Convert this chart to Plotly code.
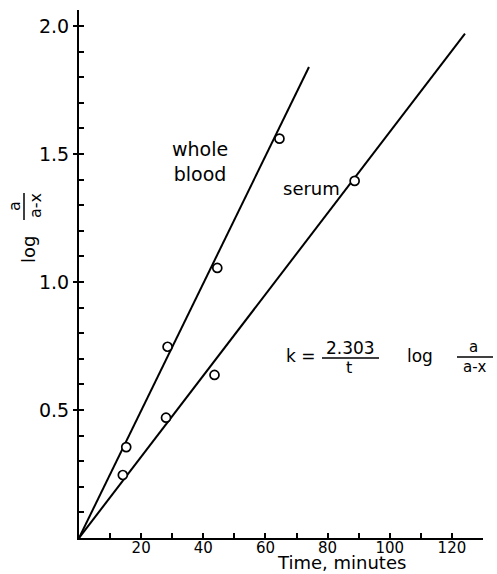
import plotly.graph_objects as go

# ---- data ----
wb_t = [15.2, 28.5, 44.5, 64.5]
wb_y = [0.355, 0.747, 1.055, 1.56]
serum_t = [14.1, 28.0, 43.6, 88.7]
serum_y = [0.246, 0.47, 0.637, 1.395]
wb_line_t = [0, 74]
wb_line_y = [0, 1.84]
serum_line_t = [0, 124.2]
serum_line_y = [0, 1.97]
x_ticks = [20, 40, 60, 80, 100, 120]
x_ticktext = ["20", "40", "60", "80", "100", "120"]
y_ticks = [0.5, 1.0, 1.5, 2.0]
y_ticktext = ["0.5", "1.0", "1.5", "2.0"]

W, H = 497, 574
L, R, T, B = 79, 14, 10, 36
XR = [0, 130]
YR = [0, 2.0625]
FONT = "DejaVu Sans"


def pp(xp, yp):
    """pixel -> paper coordinates"""
    return (xp - L) / (W - L - R), (H - B - yp) / (H - T - B)


fig = go.Figure()
line_style = dict(color="black", width=2)
fig.add_trace(go.Scatter(x=wb_line_t, y=wb_line_y, mode="lines", line=line_style,
                         showlegend=False, cliponaxis=False))
fig.add_trace(go.Scatter(x=serum_line_t, y=serum_line_y, mode="lines", line=line_style,
                         showlegend=False, cliponaxis=False))
marker_style = dict(symbol="circle", size=9, color="white",
                    line=dict(color="black", width=1.7))
fig.add_trace(go.Scatter(x=wb_t, y=wb_y, mode="markers", marker=marker_style,
                         showlegend=False, cliponaxis=False))
fig.add_trace(go.Scatter(x=serum_t, y=serum_y, mode="markers", marker=marker_style,
                         showlegend=False, cliponaxis=False))

ann = []


def text(xp, yp, s, size, angle=0, yanchor="middle"):
    x, y = pp(xp, yp)
    ann.append(dict(x=x, y=y, xref="paper", yref="paper", text=s, showarrow=False,
                    textangle=angle, font=dict(family=FONT, size=size, color="black"),
                    xanchor="center", yanchor=yanchor))


shapes = []


def seg(x0p, y0p, x1p, y1p, w=1.5):
    x0, y0 = pp(x0p, y0p)
    x1, y1 = pp(x1p, y1p)
    shapes.append(dict(type="line", xref="paper", yref="paper", x0=x0, y0=y0, x1=x1, y1=y1,
                       line=dict(color="black", width=w)))


# curve labels
text(200, 162, "whole<br>blood", 19)
text(311, 188, "serum", 18)

# equation
text(301, 356, "k =", 17)
text(350, 348, "2.303", 17)
seg(322, 358, 379, 358)
text(349, 367, "t", 16)
text(420, 356, "log", 17)
text(473, 347, "a", 15)
seg(457, 357, 493, 357)
text(475, 367, "a-x", 15)

# y-axis title
text(28, 250, "log", 18, -90)
text(14, 206, "a", 16, -90)
seg(24, 193, 24, 220)
text(35, 206, "a-x", 16, -90)

# x-axis title
text(341, 575, "Time, minutes", 18, yanchor="bottom")

fig.update_layout(
    width=W, height=H,
    margin=dict(l=L, r=R, t=T, b=B, pad=0),
    paper_bgcolor="white", plot_bgcolor="white",
    annotations=ann, shapes=shapes,
    xaxis=dict(range=XR, showgrid=False, zeroline=False,
               showline=True, linecolor="black", linewidth=2,
               tickmode="array", tickvals=x_ticks, ticktext=x_ticktext,
               ticks="inside", ticklen=5, tickwidth=1.5, tickcolor="black",
               ticklabelstandoff=-5,
               minor=dict(dtick=10, tick0=0, ticks="inside", ticklen=5,
                          tickwidth=1.5, tickcolor="black"),
               tickfont=dict(family=FONT, size=15, color="black")),
    yaxis=dict(range=YR, showgrid=False, zeroline=False,
               showline=True, linecolor="black", linewidth=2,
               tickmode="array", tickvals=y_ticks, ticktext=y_ticktext,
               ticks="outside", ticklen=4, tickwidth=1.5, tickcolor="black",
               tickfont=dict(family=FONT, size=19, color="black")),
    yaxis2=dict(range=YR, overlaying="y", side="left", showgrid=False,
                zeroline=False, showline=False, showticklabels=False,
                tickmode="linear", tick0=0, dtick=0.1,
                ticks="inside", ticklen=5, tickwidth=1.5, tickcolor="black"),
)
# dummy trace so the overlay axis is drawn
fig.add_trace(go.Scatter(x=[None], y=[None], yaxis="y2", showlegend=False,
                         hoverinfo="skip"))

fig.write_html("out.html", config={"displayModeBar": False},
               post_script="document.body.style.margin='0';document.body.style.padding='0';")
